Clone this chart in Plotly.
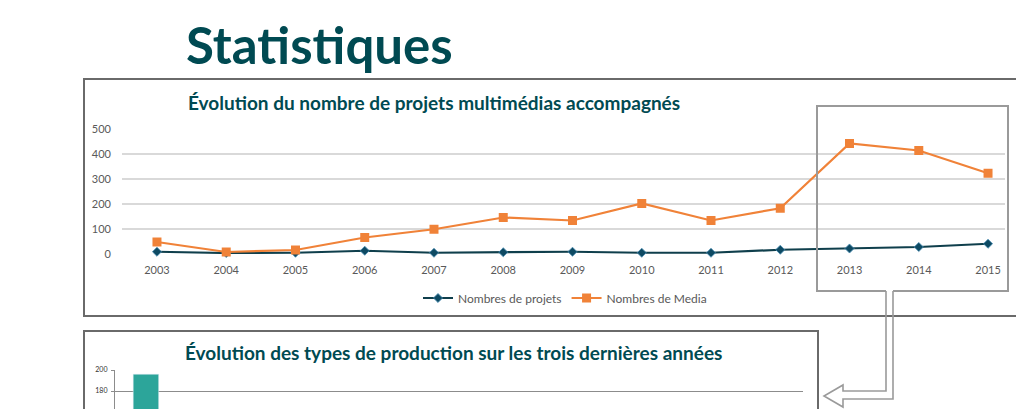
import plotly.graph_objects as go

W, H = 1016, 409

years = [2003, 2004, 2005, 2006, 2007, 2008, 2009, 2010, 2011, 2012, 2013, 2014, 2015]
projets = [9, 4, 5, 13, 5, 7, 9, 5, 5, 17, 22, 28, 41]
media = [48, 8, 16, 66, 99, 146, 134, 202, 134, 183, 442, 414, 323]

prod_types = ["Type 1"]
prod_values = [196]

TEAL = "#004a52"
ORANGE = "#f08238"
DARK = "#0f3f4c"
GRAY_TXT = "#595959"
FONT = "Lato"


def px(x):
    return x / W


def py(y):
    return 1 - y / H


fig = go.Figure()

fig.add_trace(go.Scatter(
    x=years, y=projets, name="Nombres de projets", mode="lines+markers",
    line=dict(color=DARK, width=2.2),
    marker=dict(symbol="diamond", size=7, color="#0e4a63", line=dict(color="#4d8fb5", width=0.8)),
    cliponaxis=False, xaxis="x", yaxis="y"))
fig.add_trace(go.Scatter(
    x=years, y=media, name="Nombres de Media", mode="lines+markers",
    line=dict(color=ORANGE, width=2.2),
    marker=dict(symbol="square", size=9, color=ORANGE),
    cliponaxis=False, xaxis="x", yaxis="y"))

fig.add_trace(go.Bar(
    x=prod_types, y=prod_values, name="Production", marker=dict(color="#2ca59a"),
    width=0.98, showlegend=False, xaxis="x2", yaxis="y2"))

fig.update_layout(
    width=W, height=H,
    margin=dict(l=0, r=0, t=0, b=0, pad=0, autoexpand=False),
    paper_bgcolor="white", plot_bgcolor="rgba(0,0,0,0)",
    font=dict(family=FONT, color=GRAY_TXT),
    xaxis=dict(domain=[px(122), px(1005)], range=[2002.495, 2015.245], automargin=False,
               tickmode="array", tickvals=years, ticktext=[str(y) for y in years],
               showgrid=False, zeroline=False, showline=False,
               tickfont=dict(size=11, color=GRAY_TXT), ticklabelstandoff=8),
    yaxis=dict(domain=[py(254), py(129)], range=[0, 500], dtick=100, automargin=False,
               showgrid=True, gridcolor="#d9d9d9", gridwidth=1.5,
               zeroline=False, showline=False,
               tickfont=dict(size=11, color=GRAY_TXT), ticklabelstandoff=10),
    xaxis2=dict(domain=[px(115), px(803)], range=[-1.19, 25.27], anchor="y2", automargin=False,
                showticklabels=False, showgrid=False, zeroline=False, showline=False),
    yaxis2=dict(domain=[0, py(370)], range=[162.9, 200], dtick=20, anchor="x2", automargin=False,
                showgrid=True, gridcolor="#8c8c8c", gridwidth=1.2,
                zeroline=False, showline=True, linecolor="#8c8c8c", linewidth=1.2,
                ticks="outside", ticklen=3, tickcolor="#8c8c8c",
                tickfont=dict(size=7, color="#333333"), ticklabelstandoff=2),
    legend=dict(orientation="h", x=px(418), xanchor="left", y=py(298), yanchor="middle",
                font=dict(size=12, color=GRAY_TXT), bgcolor="rgba(0,0,0,0)",
                itemwidth=30, tracegroupgap=0),
    showlegend=True,
)

# Title texts
fig.add_annotation(text="<b>Statistiques</b>", x=px(319), y=py(44), xref="paper", yref="paper",
                   showarrow=False, xanchor="center", yanchor="middle",
                   font=dict(size=51, color=TEAL, family=FONT))
fig.add_annotation(text="<b>Évolution du nombre de projets multimédias accompagnés</b>",
                   x=px(434), y=py(102), xref="paper", yref="paper", showarrow=False,
                   xanchor="center", yanchor="middle", font=dict(size=19, color=TEAL, family=FONT))
fig.add_annotation(text="<b>Évolution des types de production sur les trois dernières années</b>",
                   x=px(453), y=py(352), xref="paper", yref="paper", showarrow=False,
                   xanchor="center", yanchor="middle", font=dict(size=19, color=TEAL, family=FONT))

BOX = "#6a6a6a"
HL = "#9a9a9a"


def path_px(points, close=False):
    s = "M " + " L ".join(f"{px(x)},{py(y)}" for x, y in points)
    return s + (" Z" if close else "")


shapes = [
    # top box
    dict(type="rect", xref="paper", yref="paper", x0=px(84), x1=px(1040), y0=py(316), y1=py(79),
         line=dict(color=BOX, width=2)),
    # bottom box
    dict(type="path", xref="paper", yref="paper",
         path=path_px([(84, 440), (84, 331), (818, 331), (818, 440)]),
         line=dict(color=BOX, width=2)),
    # highlight box with opening
    dict(type="path", xref="paper", yref="paper",
         path=path_px([(886, 291), (817, 291), (817, 106), (1008, 106), (1008, 291), (893, 291)]),
         line=dict(color=HL, width=2)),
    # arrow connector (double line)
    dict(type="path", xref="paper", yref="paper",
         path=path_px([(886, 291), (886, 391), (843, 391), (843, 385), (824, 396),
                       (843, 407), (843, 399), (893, 399), (893, 291)]),
         line=dict(color=HL, width=1.6)),
]
fig.update_layout(shapes=shapes)

fig.write_html("out.html", config={"displayModeBar": False},
               post_script="document.body.style.margin='0';document.body.style.overflow='hidden';")
